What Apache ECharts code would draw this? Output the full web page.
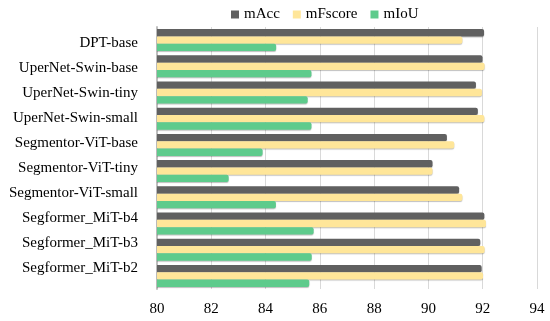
<!DOCTYPE html>
<html><head><meta charset="utf-8">
<script src="https://cdn.jsdelivr.net/npm/echarts@6/dist/echarts.min.js"></script>
<style>html,body{margin:0;padding:0;background:#fff}#c{width:550px;height:321px}</style>
</head><body><div id="c"></div>
<script>
var categories = ["DPT-base","UperNet-Swin-base","UperNet-Swin-tiny","UperNet-Swin-small","Segmentor-ViT-base","Segmentor-ViT-tiny","Segmentor-ViT-small","Segformer_MiT-b4","Segformer_MiT-b3","Segformer_MiT-b2"];
var mAcc     = [92.05, 91.99, 91.75, 91.82, 90.68, 90.15, 91.13, 92.06, 91.91, 91.96];
var mFscore  = [91.25, 92.07, 91.97, 92.06, 90.95, 90.15, 91.25, 92.12, 92.07, 92.01];
var mIoU     = [84.39, 85.69, 85.55, 85.69, 83.89, 82.64, 84.38, 85.77, 85.70, 85.61];
var seriesNames = ["mAcc","mFscore","mIoU"];
var xTicks = {min: 80, max: 94, interval: 2};

var colors = ["#606060", "#FFE699", "#5ECB8C"];
var font = "Liberation Serif";
var chart = echarts.init(document.getElementById('c'));
var data = [mAcc, mFscore, mIoU];
var series = seriesNames.map(function(n, i){
  return {
    name: n, type: 'bar', data: data[i], xAxisIndex: 0, yAxisIndex: 0,
    barGap: '0%', barCategoryGap: '16%',
    itemStyle: {color: colors[i], borderRadius: [0, 2, 2, 0],
      shadowColor: 'rgba(0,0,0,0.25)', shadowOffsetY: 1, shadowBlur: 1}
  };
});
series.push({type: 'scatter', data: [], xAxisIndex: 1, yAxisIndex: 1, silent: true});
chart.setOption({
  animation: false,
  textStyle: {fontFamily: font},
  legend: {
    top: 2, left: 226, itemWidth: 8, itemHeight: 8, itemGap: 13,
    icon: 'rect',
    textStyle: {fontFamily: font, fontSize: 15, color: '#000'},
    data: seriesNames
  },
  grid: [
    {left: 157, right: 13, top: 27, bottom: 32, containLabel: false},
    {left: 157, right: 13, top: 30.5, bottom: 40.5, containLabel: false}
  ],
  xAxis: [{
    type: 'value', gridIndex: 0, min: xTicks.min, max: xTicks.max, interval: xTicks.interval,
    axisLine: {show: false}, axisTick: {show: false},
    axisLabel: {fontFamily: font, fontSize: 15, color: '#000', margin: 13},
    splitLine: {show: true, lineStyle: {color: '#d9d9d9'}}
  }, {
    type: 'value', gridIndex: 1, min: 0, max: 1, show: false
  }],
  yAxis: [{
    type: 'category', gridIndex: 0, data: categories, inverse: true,
    axisLine: {show: true, lineStyle: {color: '#bfbfbf', width: 2}},
    axisTick: {show: false},
    axisLabel: {show: false}
  }, {
    type: 'category', gridIndex: 1, data: categories, inverse: true,
    axisLine: {show: false}, axisTick: {show: false}, splitLine: {show: false},
    axisLabel: {fontFamily: font, fontSize: 15, color: '#000', margin: 19}
  }],
  series: series
});
</script></body></html>
